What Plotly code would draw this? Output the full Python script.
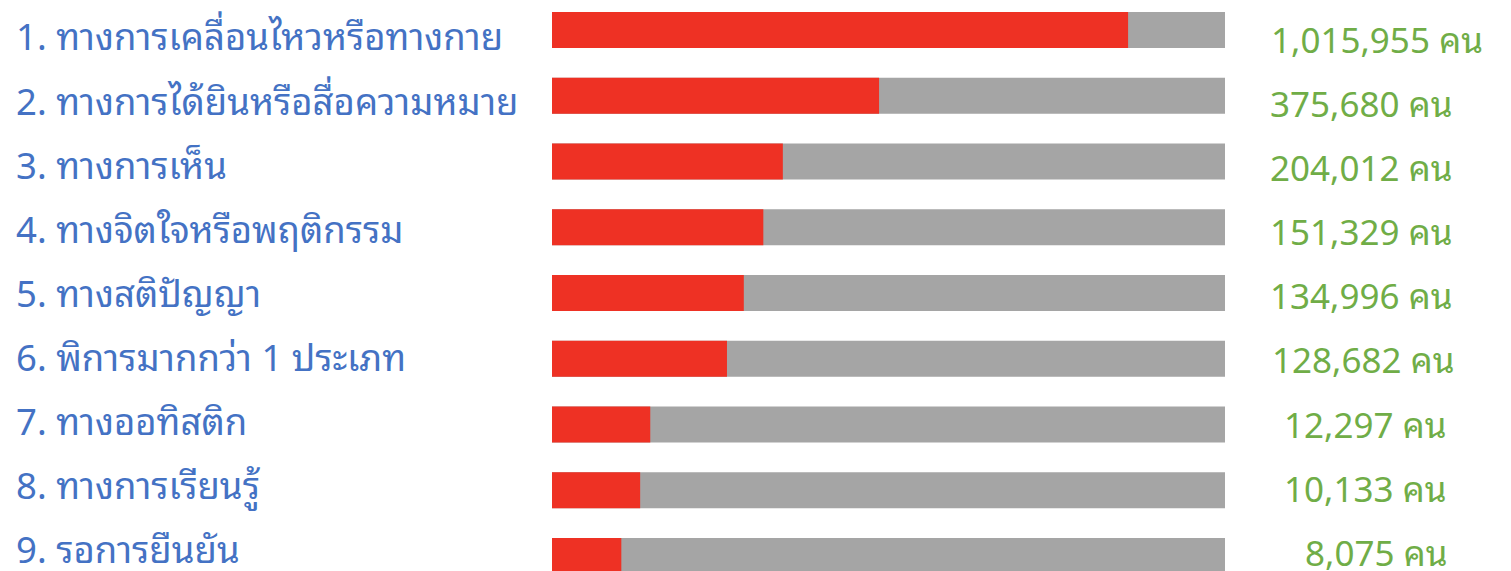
import plotly.graph_objects as go

categories = [
    "1. ทางการเคลื่อนไหวหรือทางกาย",
    "2. ทางการได้ยินหรือสื่อความหมาย",
    "3. ทางการเห็น",
    "4. ทางจิตใจหรือพฤติกรรม",
    "5. ทางสติปัญญา",
    "6. พิการมากกว่า 1 ประเภท",
    "7. ทางออทิสติก",
    "8. ทางการเรียนรู้",
    "9. รอการยืนยัน",
]
counts = [1015955, 375680, 204012, 151329, 134996, 128682, 12297, 10133, 8075]
# red bar fill as percent of the grey track
fill_pct = [85.6, 48.6, 34.3, 31.4, 28.5, 26.0, 14.6, 13.1, 10.3]
track_pct = [100] * len(categories)
value_labels = [f"{c:,} คน" for c in counts]

W, H = 1511, 571
RED = "#EE3124"
GREY = "#A5A5A5"
BLUE = "#4472C4"
GREEN = "#70AD47"
FONT = "Noto Sans Thai Looped, Noto Sans Thai, Noto Sans, sans-serif"

ys = list(range(len(categories)))
pitch = 65.75
top_c = 30
text_pitch = 64.1

fig = go.Figure()
fig.add_trace(go.Bar(y=ys, x=track_pct, orientation="h", marker=dict(color=GREY, line=dict(width=0)),
                     width=36 / pitch, hoverinfo="skip"))
fig.add_trace(go.Bar(y=ys, x=fill_pct, orientation="h", marker=dict(color=RED, line=dict(width=0)),
                     width=36 / pitch, hoverinfo="skip"))

label_x = 14
value_x = [1269, 1268, 1268, 1268, 1268, 1270, 1282, 1282, 1303]
annotations = []
for i, (cat, val) in enumerate(zip(categories, value_labels)):
    ly = 34 + i * text_pitch
    vy = 37 + i * text_pitch
    annotations.append(dict(xref="paper", yref="paper", x=label_x / W, y=1 - ly / H, text=cat, showarrow=False,
                            xanchor="left", yanchor="middle",
                            font=dict(family=FONT, size=36.5, color=BLUE)))
    annotations.append(dict(xref="paper", yref="paper", x=value_x[i] / W, y=1 - vy / H, text=val, showarrow=False,
                            xanchor="left", yanchor="middle",
                            font=dict(family=FONT, size=35, color=GREEN)))

fig.update_layout(
    width=W, height=H, barmode="overlay", showlegend=False,
    margin=dict(l=0, r=0, t=0, b=0, pad=0),
    paper_bgcolor="white", plot_bgcolor="white",
    xaxis=dict(domain=[552 / W, 1225 / W], range=[0, 100], visible=False, fixedrange=True),
    yaxis=dict(range=[(H - top_c) / pitch, -top_c / pitch], visible=False, fixedrange=True),
    annotations=annotations,
)
fig.write_html("out.html", config={"displayModeBar": False},
               post_script="document.body.style.margin='0';document.body.style.overflow='hidden';")
